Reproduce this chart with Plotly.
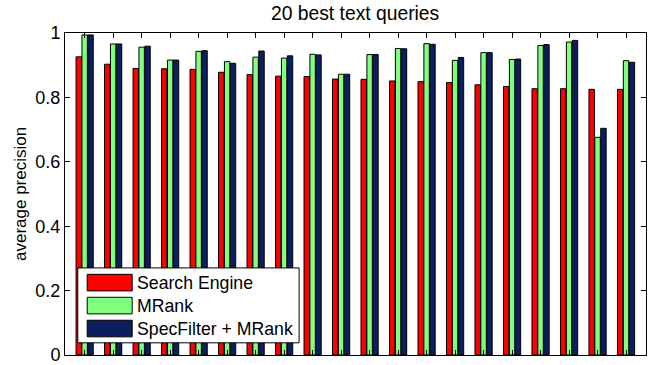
import plotly.graph_objects as go

# ---- data ----
queries = list(range(1, 21))
search_engine = [0.926, 0.903, 0.890, 0.889, 0.887, 0.878, 0.871, 0.866, 0.865, 0.857,
                 0.856, 0.851, 0.849, 0.846, 0.839, 0.834, 0.827, 0.827, 0.825, 0.825]
mrank = [0.994, 0.966, 0.956, 0.916, 0.943, 0.911, 0.925, 0.922, 0.934, 0.872,
         0.933, 0.952, 0.967, 0.915, 0.939, 0.918, 0.961, 0.972, 0.676, 0.914]
specfilter_mrank = [0.994, 0.966, 0.959, 0.916, 0.945, 0.906, 0.944, 0.929, 0.932, 0.872,
                    0.933, 0.951, 0.965, 0.924, 0.939, 0.919, 0.964, 0.977, 0.704, 0.909]
series_names = ["Search Engine", "MRank", "SpecFilter + MRank"]
series_colors = ["#ff0000", "#80ff80", "#0b1f5e"]
y_tickvals = [0, 0.2, 0.4, 0.6, 0.8, 1]
y_ticktext = ["0", "0.2", "0.4", "0.6", "0.8", "1"]
title_text = "20 best text queries"
y_label = "average precision"

FONT = "Liberation Sans, Arial, Helvetica, sans-serif"

fig = go.Figure()
for name, vals, col in zip(series_names, [search_engine, mrank, specfilter_mrank], series_colors):
    fig.add_trace(go.Bar(x=queries, y=vals, name=name,
                         marker=dict(color=col, line=dict(color="black", width=1)),
                         showlegend=False))

W, H = 655, 365
ml, mr, mt, mb = 64.5, 9.3, 33, 9.5
pw = W - ml - mr
ph = H - mt - mb

fig.update_layout(
    width=W, height=H,
    margin=dict(l=ml, r=mr, t=mt, b=mb, autoexpand=False),
    paper_bgcolor="white", plot_bgcolor="white",
    barmode="group", bargap=0.38, bargroupgap=0.08,
    font=dict(family=FONT, size=17, color="black"),
    title=dict(text=title_text, x=(ml + pw / 2) / W, xref="container", xanchor="center",
               y=1 - 13 / H, yref="container", yanchor="middle",
               font=dict(family=FONT, size=19.3, color="black")),
    xaxis=dict(range=[0.31, 20.70], tickmode="array", tickvals=queries,
               showticklabels=False, ticks="inside", ticklen=5, tickcolor="black",
               showline=True, linecolor="black", linewidth=1, mirror="ticks",
               showgrid=False, zeroline=False),
    yaxis=dict(range=[0, 1], tickmode="array", tickvals=y_tickvals, ticktext=y_ticktext,
               ticks="inside", ticklen=5, tickcolor="black", ticklabeloverflow="allow",
               showline=True, linecolor="black", linewidth=1, mirror="ticks",
               showgrid=False, zeroline=False, tickfont=dict(size=18)),
    showlegend=False,
)

# y-axis label
fig.add_annotation(text=y_label, textangle=-90, xref="paper", yref="paper",
                   x=(19.5 - ml) / pw, y=0.5, xanchor="center", yanchor="middle",
                   showarrow=False, font=dict(family=FONT, size=17, color="black"))

# custom legend (MATLAB-style large swatches)
def px(x):
    return (x - ml) / pw

def py(y):
    return 1 - (y - mt) / ph

fig.add_shape(type="rect", xref="paper", yref="paper",
              x0=px(77.3), x1=px(298.7), y0=py(343.3), y1=py(268.3),
              fillcolor="white", line=dict(color="black", width=1), layer="above")
row_centers = [283, 306, 329]
for name, col, yc in zip(series_names, series_colors, row_centers):
    fig.add_shape(type="rect", xref="paper", yref="paper",
                  x0=px(86.7), x1=px(131.7), y0=py(yc + 8.3), y1=py(yc - 8.3),
                  fillcolor=col, line=dict(color="black", width=1), layer="above")
    fig.add_annotation(text=name, xref="paper", yref="paper", x=px(135), y=py(yc),
                       xanchor="left", yanchor="middle", showarrow=False,
                       font=dict(family=FONT, size=17.7, color="black"))

fig.write_html("out.html", config={"displayModeBar": False},
               post_script="document.body.style.margin='0';document.body.style.overflow='hidden';")
